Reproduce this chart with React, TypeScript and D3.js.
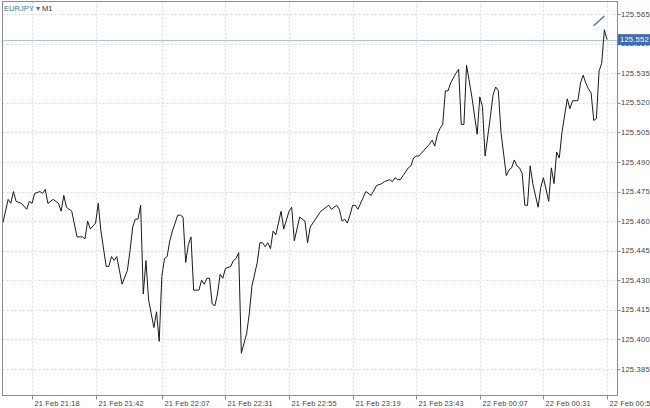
import React from "react";
import * as d3 from "d3";

const symbol = "EURJPY";
const timeframe = "M1";
const startTime = new Date(2019, 1, 21, 21, 18);

// [minutes after 21 Feb 21:18, close]
const series: [number, number][] = [
  [-11, 125.459], [-9, 125.471], [-8, 125.469], [-7, 125.475], [-6, 125.47], [-4, 125.469],
  [-2, 125.466], [-1, 125.47], [0, 125.469], [1, 125.474], [3, 125.475], [4, 125.474],
  [5, 125.476], [6, 125.469], [8, 125.471], [10, 125.469], [11, 125.465], [12, 125.473],
  [13, 125.467], [15, 125.465], [17, 125.452], [19, 125.452], [20, 125.451], [21, 125.46],
  [22, 125.456], [24, 125.459], [25, 125.469], [26, 125.455], [28, 125.437], [29, 125.437],
  [30, 125.442], [31, 125.44], [32, 125.442], [34, 125.428], [36, 125.435], [37, 125.445],
  [38, 125.457], [39, 125.461], [40, 125.461], [41, 125.468], [42, 125.423], [43, 125.44],
  [44, 125.42], [45, 125.413], [46, 125.406], [47, 125.414], [48, 125.399], [49, 125.432],
  [50, 125.441], [51, 125.442], [52, 125.45], [53, 125.455], [55, 125.463], [56, 125.463],
  [57, 125.462], [58, 125.439], [59, 125.448], [60, 125.452], [61, 125.425], [63, 125.425],
  [64, 125.43], [65, 125.428], [66, 125.431], [67, 125.431], [68, 125.418], [69, 125.417],
  [70, 125.423], [71, 125.433], [72, 125.431], [73, 125.436], [75, 125.437], [76, 125.44],
  [77, 125.441], [78, 125.444], [79, 125.393], [81, 125.403], [82, 125.413], [83, 125.427],
  [85, 125.439], [86, 125.449], [87, 125.449], [88, 125.447], [89, 125.449], [90, 125.446],
  [91, 125.455], [92, 125.453], [94, 125.465], [95, 125.456], [97, 125.465], [98, 125.467],
  [99, 125.45], [101, 125.462], [103, 125.46], [104, 125.449], [105, 125.457], [107, 125.461],
  [109, 125.465], [111, 125.467], [112, 125.468], [113, 125.466], [115, 125.468], [116, 125.466],
  [117, 125.46], [118, 125.461], [119, 125.459], [120, 125.463], [121, 125.468], [122, 125.468],
  [123, 125.466], [125, 125.472], [126, 125.475], [128, 125.473], [130, 125.478], [132, 125.479],
  [133, 125.48], [135, 125.481], [136, 125.48], [137, 125.482], [138, 125.481], [139, 125.481],
  [140, 125.483], [142, 125.487], [143, 125.488], [144, 125.492], [145, 125.493], [146, 125.493],
  [148, 125.496], [150, 125.499], [151, 125.501], [152, 125.498], [153, 125.504], [154, 125.507],
  [155, 125.509], [156, 125.526], [157, 125.526], [158, 125.53], [160, 125.535], [161, 125.537],
  [162, 125.509], [163, 125.509], [164, 125.539], [166, 125.523], [168, 125.504], [169, 125.523],
  [170, 125.518], [171, 125.493], [173, 125.513], [174, 125.524], [175, 125.528], [176, 125.526],
  [177, 125.505], [179, 125.483], [180, 125.486], [181, 125.487], [182, 125.491], [183, 125.488],
  [184, 125.487], [185, 125.484], [186, 125.468], [187, 125.468], [188, 125.488], [189, 125.479],
  [191, 125.467], [192, 125.477], [193, 125.482], [195, 125.47], [196, 125.487], [197, 125.479],
  [198, 125.495], [199, 125.492], [200, 125.505], [202, 125.522], [203, 125.517], [204, 125.521],
  [206, 125.521], [207, 125.53], [208, 125.534], [209, 125.53], [210, 125.527], [211, 125.525],
  [212, 125.511], [213, 125.512], [214, 125.536], [215, 125.54], [216, 125.557], [217, 125.552],
];

const lastPrice = 125.552;
const trendMinutes = [212, 216];
const trendPrices = [125.559, 125.564];

const priceTicks = [125.385, 125.4, 125.415, 125.43, 125.445, 125.46, 125.475, 125.49, 125.505, 125.52, 125.535, 125.55, 125.565];
const timeTickMinutes = [0, 24, 49, 73, 97, 121, 145, 169, 193, 217];
const timeTickLabels = [
  "21 Feb 21:18", "21 Feb 21:42", "21 Feb 22:07", "21 Feb 22:31", "21 Feb 22:55",
  "21 Feb 23:19", "21 Feb 23:43", "22 Feb 00:07", "22 Feb 00:31", "22 Feb 00:55",
];

const W = 650;
const H = 408;
const plotL = 2.5;
const plotR = 617.5;
const plotT = 1.5;
const plotB = 395.5;

const toDate = (m: number) => new Date(startTime.getTime() + m * 60000);

export default function App() {
  const x = d3.scaleTime().domain([toDate(0), toDate(217)]).range([32, 607]);
  const y = d3.scaleLinear().domain([125.385, 125.565]).range([369, 14]);
  const line = d3
    .line<[number, number]>()
    .x((d) => x(toDate(d[0])))
    .y((d) => y(d[1]));
  const font = "'Liberation Sans', Arial, sans-serif";
  const tickTimeX = timeTickMinutes.map((m) => Math.round(x(toDate(m))) + 0.5);

  return (
    <svg width={W} height={H} style={{ position: "absolute", left: 0, top: 0, background: "#fff" }} fontFamily={font}>
      <rect x={0} y={0} width={W} height={H} fill="#fff" />
      {/* grid */}
      {priceTicks.map((p) => (
        <line key={"gh" + p} x1={plotL} x2={plotR} y1={Math.round(y(p)) + 0.5} y2={Math.round(y(p)) + 0.5} stroke="#dcdcdc" strokeDasharray="2,2" />
      ))}
      {tickTimeX.map((tx, i) => (
        <line key={"gv" + i} x1={tx} x2={tx} y1={plotT} y2={plotB} stroke="#dcdcdc" strokeDasharray="2,2" />
      ))}
      {/* bid line */}
      <line x1={plotL} x2={plotR} y1={Math.round(y(lastPrice)) + 0.5} y2={Math.round(y(lastPrice)) + 0.5} stroke="#a9c3e6" strokeWidth={1} />
      {/* price line */}
      <path d={line(series) || ""} fill="none" stroke="#1a1a1a" strokeWidth={1} strokeLinejoin="round" />
      {/* trend line object */}
      <line
        x1={x(toDate(trendMinutes[0]))}
        y1={y(trendPrices[0])}
        x2={x(toDate(trendMinutes[1]))}
        y2={y(trendPrices[1])}
        stroke="#2c72d8"
        strokeWidth={1.3}
      />
      {/* frame */}
      <rect x={plotL} y={plotT} width={plotR - plotL} height={plotB - plotT} fill="none" stroke="#8c8c8c" strokeWidth={1} />
      {/* price axis */}
      {priceTicks.map((p) => (
        <g key={"pt" + p}>
          <line x1={plotR} x2={plotR + 3} y1={Math.round(y(p)) + 0.5} y2={Math.round(y(p)) + 0.5} stroke="#8c8c8c" />
          <text x={621} y={y(p)} dy="0.35em" fontSize={7.6} fill="#444" letterSpacing={0.2}>
            {p.toFixed(3)}
          </text>
        </g>
      ))}
      {/* time axis */}
      {tickTimeX.map((tx, i) => (
        <g key={"tt" + i}>
          <line x1={tx} x2={tx} y1={plotB} y2={plotB + 4} stroke="#8c8c8c" />
          <text x={tx + 2} y={406} fontSize={7.4} fill="#444" letterSpacing={0.15}>
            {timeTickLabels[i]}
          </text>
        </g>
      ))}
      {/* last price label */}
      <rect x={618} y={y(lastPrice) - 5.5} width={32} height={11} fill="#3b6fb3" />
      <text x={620} y={y(lastPrice)} dy="0.35em" fontSize={7.6} fill="#fff" letterSpacing={0.2}>
        {lastPrice.toFixed(3)}
      </text>
      {/* header */}
      <text x={4} y={11} fontSize={7.6} fill="#333">
        <tspan fill="#2a78d6">{symbol}</tspan>
        <tspan fill="#2a78d6" dx={2}>▾</tspan>
        <tspan dx={2}>{timeframe}</tspan>
      </text>
    </svg>
  );
}
